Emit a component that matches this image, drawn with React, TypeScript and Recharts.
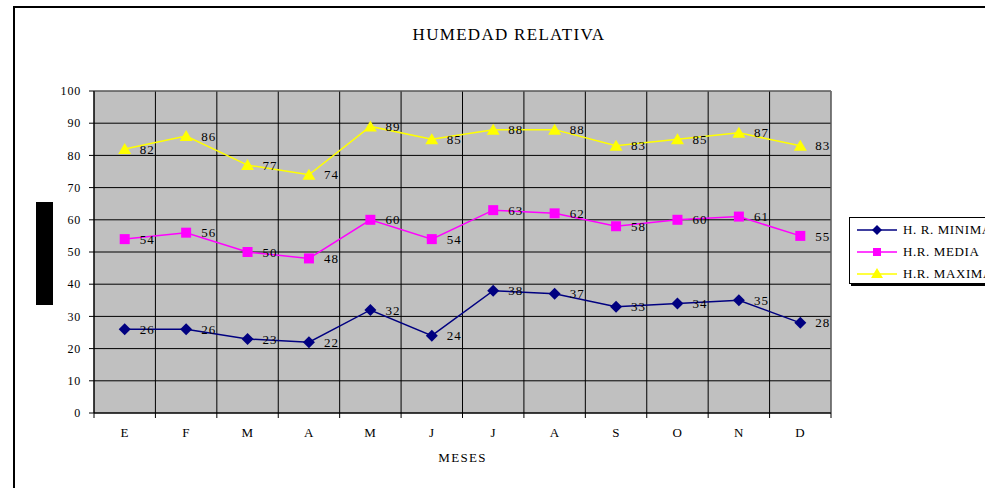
import { LineChart, Line, XAxis, YAxis, CartesianGrid, ReferenceLine, LabelList } from 'recharts'

const months = ['E', 'F', 'M', 'A', 'M', 'J', 'J', 'A', 'S', 'O', 'N', 'D']
const hrMinima = [26, 26, 23, 22, 32, 24, 38, 37, 33, 34, 35, 28]
const hrMedia = [54, 56, 50, 48, 60, 54, 63, 62, 58, 60, 61, 55]
const hrMaxima = [82, 86, 77, 74, 89, 85, 88, 88, 83, 85, 87, 83]
const yTicks = [0, 10, 20, 30, 40, 50, 60, 70, 80, 90, 100]
const monthBounds = [0, 1, 2, 3, 4, 5, 6, 7, 8, 9, 10, 11, 12]

const serif = '"Liberation Serif", "Times New Roman", serif'

// each month sits in the middle of its slot on the month axis
const chartData = months.map((m, i) => ({
  mes: m,
  slot: i + 0.5,
  minima: hrMinima[i],
  media: hrMedia[i],
  maxima: hrMaxima[i],
}))

const Diamond = (props: any) => {
  const { cx, cy } = props
  if (cx == null || cy == null) return null
  const r = 6
  return (
    <polygon
      points={`${cx},${cy - r} ${cx + r},${cy} ${cx},${cy + r} ${cx - r},${cy}`}
      fill="#000080"
    />
  )
}

const Square = (props: any) => {
  const { cx, cy } = props
  if (cx == null || cy == null) return null
  return <rect x={cx - 5} y={cy - 5} width={10} height={10} fill="#FF00FF" />
}

const Triangle = (props: any) => {
  const { cx, cy } = props
  if (cx == null || cy == null) return null
  return (
    <polygon
      points={`${cx},${cy - 6} ${cx + 6.5},${cy + 5} ${cx - 6.5},${cy + 5}`}
      fill="#FFFF00"
    />
  )
}

// ticks sit on the month boundaries, the letter goes in the middle of the slot
const MonthTick = (props: any) => {
  const { x, y, payload, width } = props
  const i = payload.value
  if (i >= months.length) return null
  const half = width / months.length / 2
  return (
    <text x={x + half} y={y} dy="0.71em" textAnchor="middle" fontSize={13} fill="#000" fontFamily={serif} letterSpacing={0.5}>
      {months[i]}
    </text>
  )
}

const legendItems = [
  { name: 'H. R. MINIMA', color: '#000080', shape: 'diamond' },
  { name: 'H.R. MEDIA', color: '#FF00FF', shape: 'square' },
  { name: 'H.R. MAXIMA', color: '#FFFF00', shape: 'triangle' },
]

function LegendMark({ color, shape }: { color: string; shape: string }) {
  return (
    <svg width={40} height={12} style={{ display: 'block' }}>
      <line x1={0} y1={6} x2={40} y2={6} stroke={color} strokeWidth={1.5} />
      {shape === 'diamond' && <polygon points="20,1 25,6 20,11 15,6" fill={color} />}
      {shape === 'square' && <rect x={16} y={2} width={8} height={8} fill={color} />}
      {shape === 'triangle' && <polygon points="20,0 26,10 14,10" fill={color} />}
    </svg>
  )
}

export default function App() {
  return (
    <div style={{ position: 'fixed', left: 0, top: 0, width: 985, height: 488, overflow: 'hidden', background: '#fff' }}>
      <div
        style={{
          position: 'absolute', left: 13, top: 6, width: 1000, height: 520,
          border: '2px solid #000', boxSizing: 'border-box',
        }}
      />
      <div
        style={{
          position: 'absolute', left: 0, top: 25, width: 1018, textAlign: 'center',
          fontFamily: serif, fontSize: 17, letterSpacing: 1.3, color: '#000',
        }}
      >
        HUMEDAD RELATIVA
      </div>
      <div style={{ position: 'absolute', left: 36, top: 202, width: 17, height: 103, background: '#000' }} />

      <div style={{ position: 'absolute', left: 0, top: 0 }}>
        <LineChart width={985} height={488} data={chartData} margin={{ top: 91, right: 154, bottom: 0, left: 0 }}>
          <CartesianGrid stroke="#000" fill="#C0C0C0" fillOpacity={1} />
          <XAxis
            dataKey="slot"
            type="number"
            domain={[0, 12]}
            ticks={monthBounds}
            interval={0}
            height={75}
            axisLine={{ stroke: '#000' }}
            tickLine={{ stroke: '#000' }}
            tickSize={5}
            tickMargin={10}
            tick={<MonthTick />}
            label={{ value: 'MESES', position: 'insideBottom', offset: 26, fontSize: 13, fill: '#000', fontFamily: serif, letterSpacing: 1.3 }}
          />
          <YAxis
            width={94}
            domain={[0, 100]}
            ticks={yTicks}
            interval={0}
            axisLine={{ stroke: '#000' }}
            tickLine={{ stroke: '#000' }}
            tickSize={5}
            tickMargin={8}
            tick={{ fontSize: 12, fill: '#000', fontFamily: serif, letterSpacing: 0.8 }}
          />
          <ReferenceLine y={100} stroke="#808080" />
          <ReferenceLine x={12} stroke="#808080" />
          <Line
            dataKey="minima"
            stroke="#000080"
            strokeWidth={1.5}
            dot={<Diamond />}
            activeDot={false}
            isAnimationActive={false}
          >
            <LabelList dataKey="minima" position="right" offset={15} fontSize={13} fill="#000" fontFamily={serif} letterSpacing={1} />
          </Line>
          <Line
            dataKey="media"
            stroke="#FF00FF"
            strokeWidth={1.5}
            dot={<Square />}
            activeDot={false}
            isAnimationActive={false}
          >
            <LabelList dataKey="media" position="right" offset={15} fontSize={13} fill="#000" fontFamily={serif} letterSpacing={1} />
          </Line>
          <Line
            dataKey="maxima"
            stroke="#FFFF00"
            strokeWidth={1.5}
            dot={<Triangle />}
            activeDot={false}
            isAnimationActive={false}
          >
            <LabelList dataKey="maxima" position="right" offset={15} fontSize={13} fill="#000" fontFamily={serif} letterSpacing={1} />
          </Line>
        </LineChart>
      </div>

      <div
        style={{
          position: 'absolute', left: 849, top: 217, width: 150, height: 67,
          border: '1px solid #000', boxShadow: '2px 2px 0 #000', background: '#fff',
          boxSizing: 'border-box', paddingTop: 1, paddingLeft: 7,
        }}
      >
        {legendItems.map(item => (
          <div key={item.name} style={{ display: 'flex', alignItems: 'center', height: 22 }}>
            <LegendMark color={item.color} shape={item.shape} />
            <span style={{ marginLeft: 6, fontFamily: serif, fontSize: 13, letterSpacing: 0.6, color: '#000', whiteSpace: 'nowrap' }}>
              {item.name}
            </span>
          </div>
        ))}
      </div>
    </div>
  )
}
